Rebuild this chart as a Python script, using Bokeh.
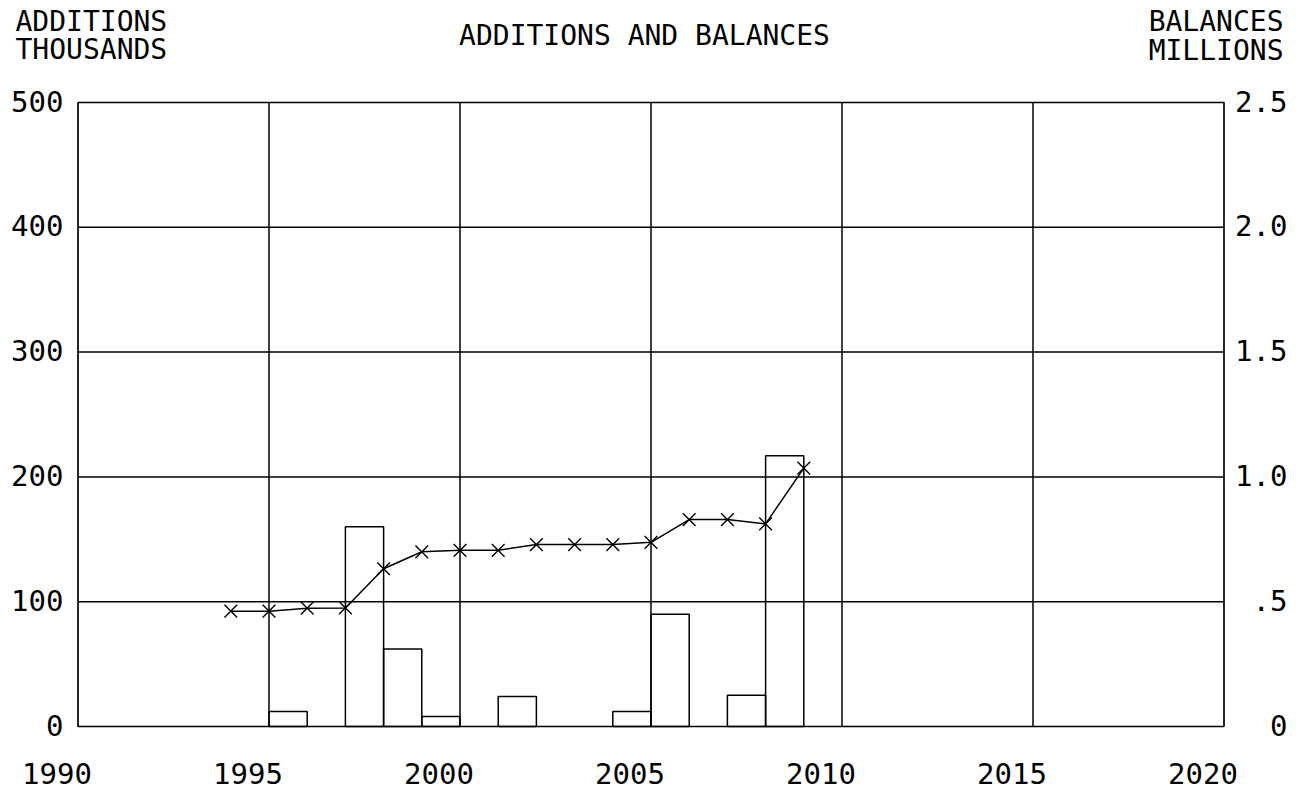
from bokeh.plotting import figure
from bokeh.models import Range1d
from bokeh.core.properties import value
from bokeh.embed import file_html
from bokeh.resources import INLINE

# ---- data ----
bar_years = [1996, 1998, 1999, 2000, 2002, 2005, 2006, 2008, 2009]   # bar spans (year-1, year)
additions = [12, 160, 62, 8, 24, 12, 90, 25, 217]                   # thousands
bal_years = [1994, 1995, 1996, 1997, 1998, 1999, 2000, 2001,
             2002, 2003, 2004, 2005, 2006, 2007, 2008, 2009]
balances = [0.462, 0.462, 0.474, 0.475, 0.632, 0.700, 0.706, 0.706,
            0.729, 0.729, 0.729, 0.738, 0.829, 0.829, 0.812, 1.035]  # millions

x_ticks = [1990, 1995, 2000, 2005, 2010, 2015, 2020]
x_tick_labels = ["1990", "1995", "2000", "2005", "2010", "2015", "2020"]
left_ticks = [0, 100, 200, 300, 400, 500]
left_tick_labels = ["0", "100", "200", "300", "400", "500"]
right_ticks = [0, 0.5, 1.0, 1.5, 2.0, 2.5]
right_tick_labels = ["0", ".5", "1.0", "1.5", "2.0", "2.5"]

title_text = "ADDITIONS AND BALANCES"
left_label_1, left_label_2 = "ADDITIONS", "THOUSANDS"
right_label_1, right_label_2 = "BALANCES", "MILLIONS"

# ---- layout (pixels) ----
W, H = 1295, 790
FL, FR, FT, FB = 77.5, 1223.5, 102.0, 726.0      # chart box edges on the canvas
FONT = "DejaVu Sans Mono"
FS = "29px"
FS_HEAD = "28px"
FIX = -12   # baseline correction

x0, x1 = x_ticks[0], x_ticks[-1]
y0, y1 = left_ticks[0], left_ticks[-1]
r0, r1 = right_ticks[0], right_ticks[-1]
kx = (x1 - x0) / (FR - FL)
ky = (y1 - y0) / (FB - FT)
kr = (r1 - r0) / (FB - FT)

p = figure(width=W, height=H, output_backend="svg", toolbar_location=None,
           x_range=Range1d(x0 - FL * kx, x1 + (W - FR) * kx),
           y_range=Range1d(y0 - (H - FB) * ky, y1 + FT * ky),
           x_axis_location=None, y_axis_location=None,
           min_border=0, min_border_left=0, min_border_right=0,
           min_border_top=0, min_border_bottom=0)
p.extra_y_ranges = {"bal": Range1d(r0 - (H - FB) * kr, r1 + FT * kr)}
p.outline_line_color = None
p.background_fill_color = "white"
p.border_fill_color = "white"
p.xgrid.visible = False
p.ygrid.visible = False

LW = 1.5
# grid lines
gx = x_ticks[1:-1]
p.segment(x0=gx, y0=[y0] * len(gx), x1=gx, y1=[y1] * len(gx), line_color="black", line_width=LW)
gy = left_ticks[1:-1]
p.segment(x0=[x0] * len(gy), y0=gy, x1=[x1] * len(gy), y1=gy, line_color="black", line_width=LW)

# bars
p.quad(left=[y - 1 for y in bar_years], right=bar_years, bottom=0, top=additions,
       fill_alpha=0, line_color="black", line_width=LW)

# chart box
p.quad(left=[x0], right=[x1], bottom=[y0], top=[y1], fill_alpha=0,
       line_color="black", line_width=1.7)

# balances line
p.line(bal_years, balances, y_range_name="bal", line_color="black", line_width=1.5)
p.scatter(bal_years, balances, y_range_name="bal", marker="x", size=18,
          line_color="black", line_width=1.4)

common = dict(text_font=value(FONT), text_color="black", text_baseline="alphabetic")

# x tick labels
p.text(x=x_ticks, y=[y0] * len(x_ticks), text=x_tick_labels, x_offset=-21, y_offset=59 + FIX,
       text_align="center", text_font_size=value(FS), **common)
# left tick labels
p.text(x=[x0] * len(left_ticks), y=left_ticks, text=left_tick_labels, x_offset=-14.5,
       y_offset=10.5 + FIX, text_align="right", text_font_size=value(FS), **common)
# right tick labels
p.text(x=[x1] * len(right_ticks), y=right_ticks, text=right_tick_labels, y_range_name="bal",
       x_offset=63.5, y_offset=10.5 + FIX, text_align="right", text_font_size=value(FS), **common)

xmid = (x0 + x1) / 2
p.text(x=[xmid], y=[y1], text=[title_text], x_offset=-6.5, y_offset=-55 + FIX,
       text_align="center", text_font_size=value(FS_HEAD), **common)
p.text(x=[x0, x0], y=[y1, y1], text=[left_label_1, left_label_2], x_offset=-62.5,
       y_offset=[-69 + FIX, -41 + FIX], text_align="left", text_font_size=value(FS_HEAD), **common)
p.text(x=[x1, x1], y=[y1, y1], text=[right_label_1, right_label_2], x_offset=59.5,
       y_offset=[-69 + FIX, -40 + FIX], text_align="right", text_font_size=value(FS_HEAD), **common)

open("out.html", "w").write(file_html(p, INLINE))
